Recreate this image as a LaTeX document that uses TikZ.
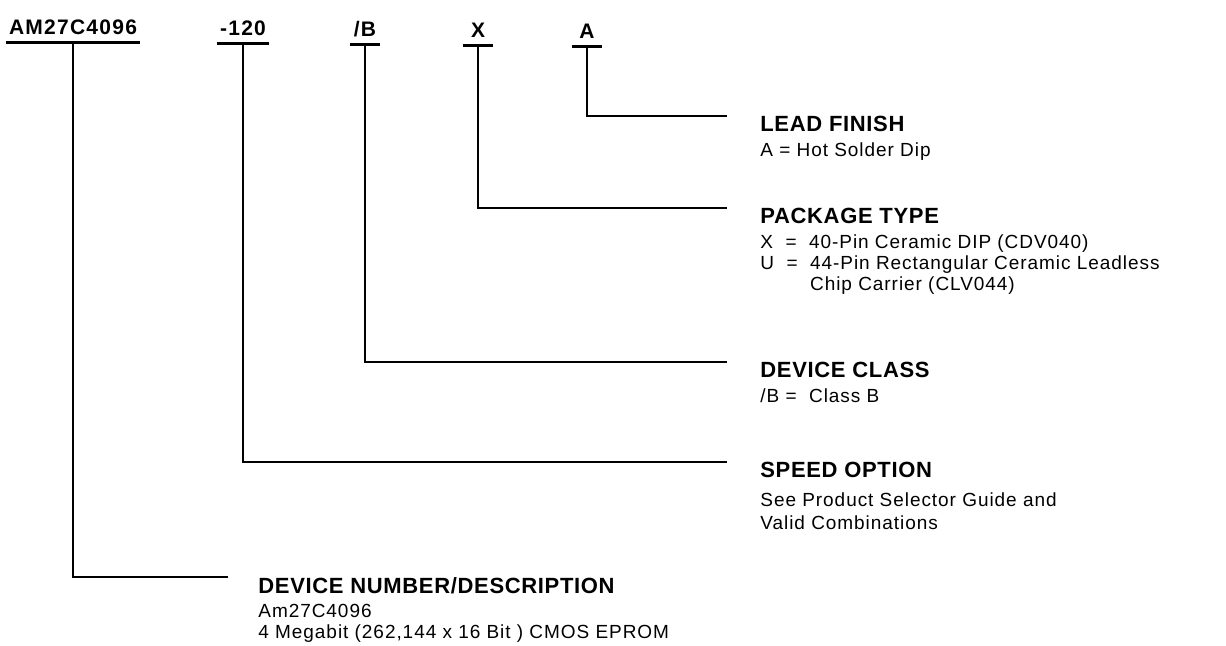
\documentclass[tikz,border=0pt]{standalone}
\usepackage{fontspec}
\setmainfont{Liberation Sans}
\newfontfamily\codefont{Liberation Sans}[LetterSpace=6]
\newfontfamily\headfont{Liberation Sans}[LetterSpace=3]
\newfontfamily\bodyfont{Liberation Sans}[LetterSpace=5]
\usetikzlibrary{positioning}

\tikzset{
  partno/.style={font=\codefont\bfseries\fontsize{10.5}{12}\selectfont, anchor=base,
    inner xsep=1.5pt, inner ysep=3.5pt, text depth=0pt, minimum width=15pt},
  uline/.style={line width=1.8pt},
  leader/.style={line width=1.1pt},
  head/.style={font=\headfont\bfseries\fontsize{11}{13}\selectfont, anchor=north west, inner sep=0pt},
  body/.style={font=\bodyfont\fontsize{9.5}{10.5}\selectfont, align=left, inner sep=0pt},
}

\begin{document}
\begin{tikzpicture}[x=0.5pt, y=-0.5pt]
  \useasboundingbox (0,0) rectangle (1226,646);

  % fields of the ordering code
  \node[partno] (am)    at (73,35)  {AM27C4096};
  \node[partno] (speed) at (243,36) {-120};
  \node[partno] (cls)   at (365,37) {/B};
  \node[partno] (pkg)   at (478,38) {X};
  \node[partno] (fin)   at (587,39) {A};
  \foreach \n in {am,speed,cls,pkg,fin}
    \draw[uline] (\n.south west) -- (\n.south east);

  % what each field means
  \node[head] (finh) at (760,116) {LEAD FINISH};
  \node[body] (fint) [below=5pt of finh.south west, anchor=north west] {A = Hot Solder Dip};

  \node[head] (pkgh) at (760,208) {PACKAGE TYPE};
  \node[body] (pkgt) [below=5pt of pkgh.south west, anchor=north west]
    {X\ \ =\ \ 40-Pin Ceramic DIP (CDV040)\\
     U\ \ =\ \ 44-Pin Rectangular Ceramic Leadless\\
     \phantom{U\ \ =\ \ }Chip Carrier (CLV044)};

  \node[head] (clsh) at (760,362) {DEVICE CLASS};
  \node[body] (clst) [below=5pt of clsh.south west, anchor=north west] {/B =\ \ Class B};

  \node[head] (speedh) at (760,462) {SPEED OPTION};
  \node[body] (speedt) [below=7pt of speedh.south west, anchor=north west]
    {See Product Selector Guide and\\[0.8pt]Valid Combinations};

  \node[head] (amh) at (258,577) {DEVICE NUMBER/DESCRIPTION};
  \node[body] (amt) [below=5pt of amh.south west, anchor=north west]
    {Am27C4096\\4 Megabit (262,144 x 16 Bit ) CMOS EPROM};

  % leaders
  \draw[leader] (fin.south)   |- ([xshift=-16.5pt]finh.north west);
  \draw[leader] (pkg.south)   |- ([xshift=-16.5pt]pkgh.north west);
  \draw[leader] (cls.south)   |- ([xshift=-16.5pt]clsh.north west);
  \draw[leader] (speed.south) |- ([xshift=-16.5pt]speedh.north west);
  \draw[leader] (am.south)    |- ([xshift=-15pt]amh.north west);
\end{tikzpicture}
\end{document}
